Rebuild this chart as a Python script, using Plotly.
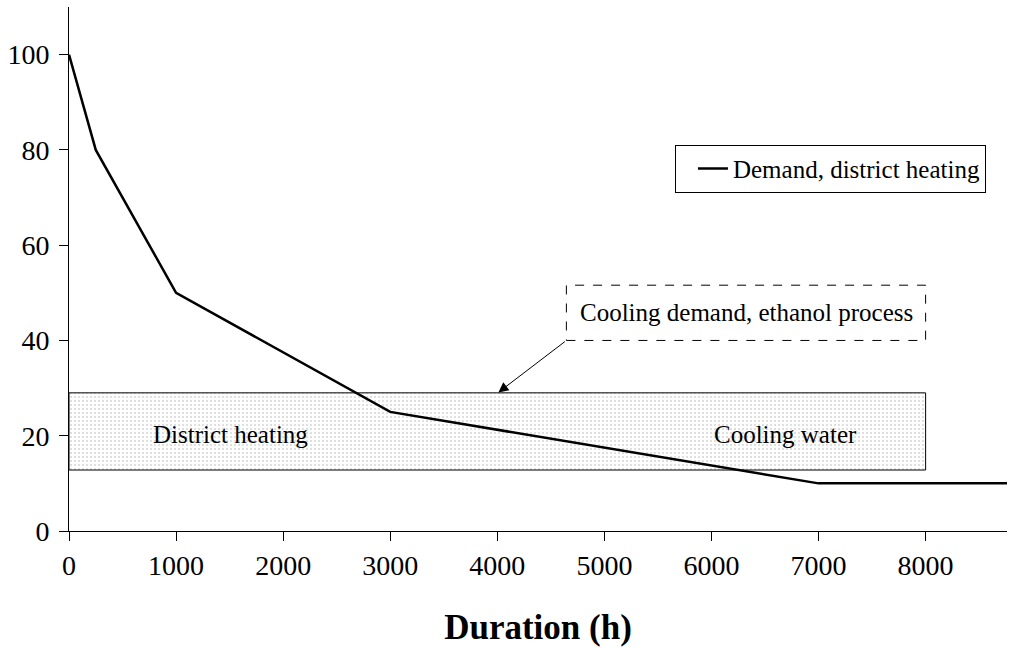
import plotly.graph_objects as go

hours = [0, 250, 1000, 3000, 7000, 8760]
demand = [100, 80, 50, 25, 10, 10]

rect_x = [0, 8000]
rect_y = [12.8, 29.0]

note_x = [4645, 8000]
note_y = [40.0, 51.6]
arrow_head = (4010, 29.1)

x_ticks = [0, 1000, 2000, 3000, 4000, 5000, 6000, 7000, 8000]
y_ticks = [0, 20, 40, 60, 80, 100]

FONT = "Liberation Serif, Times New Roman, serif"

fig = go.Figure()

fig.add_trace(go.Scatter(
    x=[rect_x[0], rect_x[1], rect_x[1], rect_x[0], rect_x[0]],
    y=[rect_y[0], rect_y[0], rect_y[1], rect_y[1], rect_y[0]],
    mode="lines", fill="toself",
    fillcolor="rgba(255,255,255,0)",
    fillpattern=dict(shape=".", size=4, solidity=0.2, fgcolor="#aaaaaa", bgcolor="white"),
    line=dict(color="black", width=1),
    showlegend=False, hoverinfo="skip",
))

fig.add_trace(go.Scatter(
    x=hours, y=demand, mode="lines",
    line=dict(color="black", width=2.5),
    name="Demand, district heating",
))

fig.add_shape(type="rect", x0=note_x[0], x1=note_x[1], y0=note_y[0], y1=note_y[1],
              xref="x", yref="y", line=dict(color="black", width=1, dash="dash"),
              fillcolor="white")

fig.add_annotation(x=(note_x[0] + note_x[1]) / 2, y=(note_y[0] + note_y[1]) / 2,
                   text="Cooling demand, ethanol process", showarrow=False,
                   font=dict(family=FONT, size=25, color="black"))
fig.add_annotation(x=arrow_head[0], y=arrow_head[1], ax=note_x[0], ay=note_y[0],
                   xref="x", yref="y", axref="x", ayref="y", text="",
                   showarrow=True, arrowhead=2, arrowsize=2, arrowwidth=1, arrowcolor="black")
fig.add_annotation(x=1505, y=20.3, text="District heating", showarrow=False,
                   font=dict(family=FONT, size=25, color="black"))
fig.add_annotation(x=6690, y=20.3, text="Cooling water", showarrow=False,
                   font=dict(family=FONT, size=25, color="black"))

fig.update_layout(
    width=1009, height=647,
    margin=dict(l=69, r=2, t=7, b=116),
    paper_bgcolor="white", plot_bgcolor="white",
    font=dict(family=FONT, size=28, color="black"),
    showlegend=True,
    legend=dict(x=0.646, y=0.737, xanchor="left", yanchor="top",
                bordercolor="black", borderwidth=1, bgcolor="white",
                font=dict(family=FONT, size=25), itemwidth=30, indentation=17),
)
fig.update_xaxes(range=[0, 8760], tickvals=x_ticks, showgrid=False, zeroline=False,
                 showline=True, linecolor="black", linewidth=1,
                 ticks="outside", ticklen=9, tickcolor="black",
                 title=dict(text="<b>Duration (h)</b>", font=dict(family=FONT, size=35), standoff=34))
fig.update_yaxes(range=[0, 110], tickvals=y_ticks, showgrid=False, zeroline=False,
                 showline=True, linecolor="black", linewidth=1,
                 ticks="outside", ticklen=9, tickcolor="black", ticklabelstandoff=4)

fig.write_html("out.html", config={"displayModeBar": False},
               post_script="document.body.style.margin='0';")
